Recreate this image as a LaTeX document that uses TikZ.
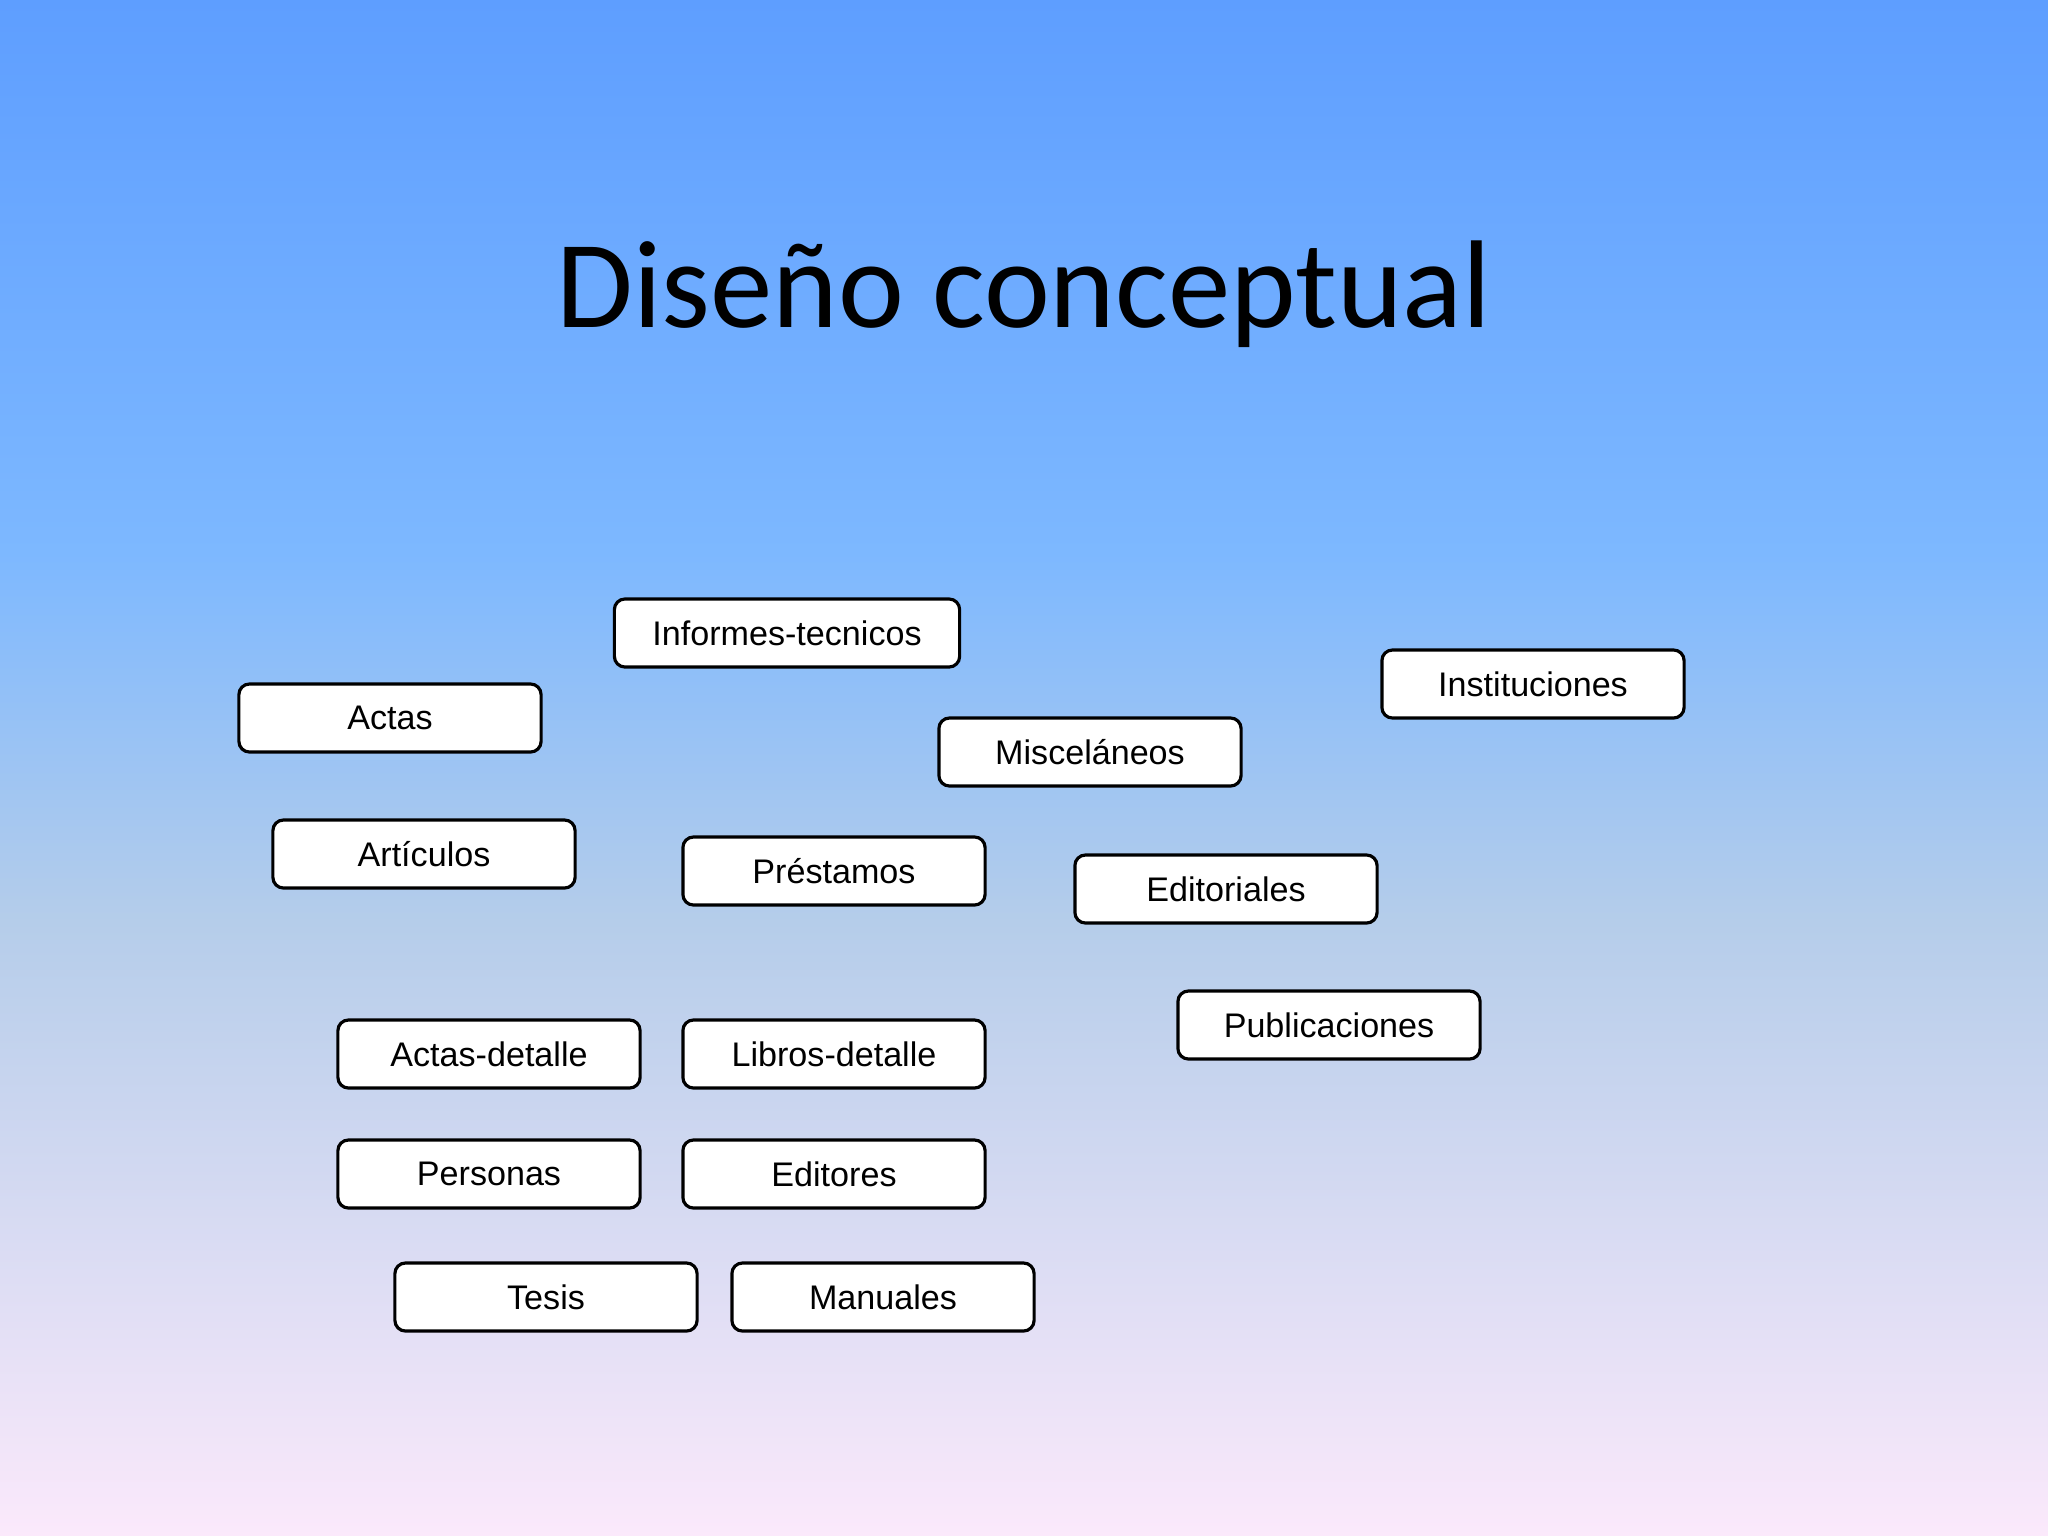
\documentclass[tikz,border=0pt]{standalone}
\usepackage{fontspec}
\setmainfont{Liberation Sans}
\newfontfamily\titlefont{Carlito}
\definecolor{skytop}{HTML}{5E9EFF}
\definecolor{skymid}{HTML}{7DB8FF}
\definecolor{skylow}{HTML}{B5CDEA}
\definecolor{skypink}{HTML}{FBE9FB}
\pgfdeclareverticalshading{daybreak}{100bp}{color(0bp)=(skypink); color(25bp)=(skypink); color(45bp)=(skylow); color(57bp)=(skymid); color(75bp)=(skytop); color(100bp)=(skytop)}
\tikzset{
  entidad/.style={draw=black, line width=0.9pt, fill=white, rounded corners=3pt,
    minimum width=3.02cm, minimum height=0.68cm, inner xsep=0.38cm,
    font=\fontsize{9.7}{12}\selectfont},
}
\begin{document}
\begin{tikzpicture}[x=0.01cm,y=-0.01cm]

\shade[shading=daybreak] (0,0) rectangle (2048,1536);
\useasboundingbox (0,0) rectangle (2048,1536);

\node[font=\titlefont\fontsize{35.5}{40}\selectfont] (titulo) at (1024,294) {Diseño conceptual};

\node[entidad] (informes) at (787,633) {Informes-tecnicos};
\node[entidad] (actas) at (390,718) {Actas};
\node[entidad] (instituciones) at (1533,684) {Instituciones};
\node[entidad] (miscelaneos) at (1090,752) {Misceláneos};
\node[entidad] (articulos) at (424,854) {Artículos};
\node[entidad] (prestamos) at (834,871) {Préstamos};
\node[entidad] (editoriales) at (1226,889) {Editoriales};
\node[entidad] (publicaciones) at (1329,1025) {Publicaciones};
\node[entidad] (actasdet) at (489,1054) {Actas-detalle};
\node[entidad] (librosdet) at (834,1054) {Libros-detalle};
\node[entidad] (personas) at (489,1174) {Personas};
\node[entidad] (editores) at (834,1174) {Editores};
\node[entidad] (tesis) at (546,1297) {Tesis};
\node[entidad] (manuales) at (883,1297) {Manuales};

\end{tikzpicture}
\end{document}
